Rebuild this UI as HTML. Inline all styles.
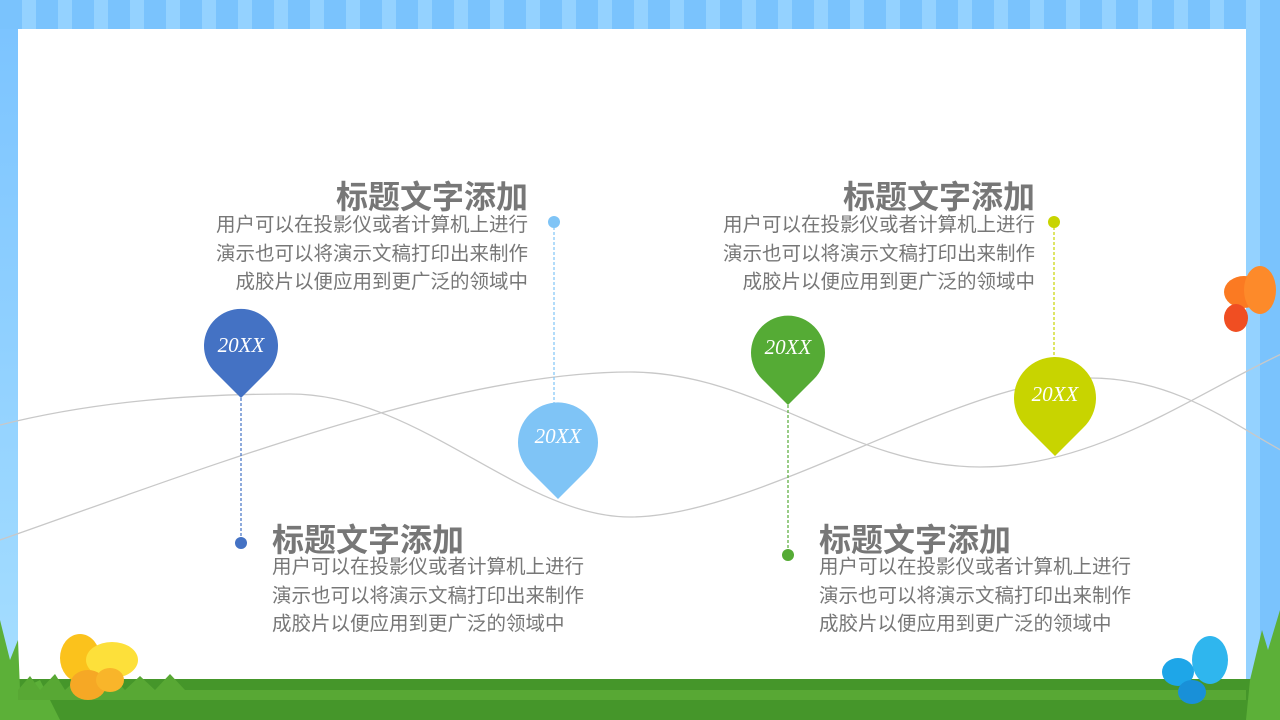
<!DOCTYPE html>
<html><head><meta charset="utf-8"><style>
body{margin:0;width:1280px;height:720px;overflow:hidden;position:relative;font-family:"Liberation Sans","Noto Sans CJK SC",sans-serif;background:linear-gradient(#7cc4ff,#8fd0ff 60%,#b8e8ff);}
.stripes{position:absolute;left:0;top:0;width:1280px;height:720px;background:repeating-linear-gradient(90deg,#7ac3fd 0 22px,#94d2ff 22px 36px);}
.panel{position:absolute;left:18px;top:29px;width:1228px;height:660px;background:#fff;}
.t{position:absolute;color:#777;white-space:nowrap;}
.h{font-size:32px;font-weight:bold;line-height:34px;}
.b{font-size:19.5px;line-height:28.5px;}
.r{text-align:right}
</style></head><body>
<div class="stripes"></div>
<div style="position:absolute;left:0;top:29px;width:18px;height:660px;background:linear-gradient(#7cc4ff,#a6deff);"></div>
<div class="panel"></div>
<svg width="1280" height="720" style="position:absolute;left:0;top:0">
<g fill="none" stroke="#c8c8c8" stroke-width="1.3">
<path d="M0 425 C100 400 200 394 290 394 C420 394 520 517 630 517 C760 517 960 378 1090 378 C1180 378 1240 430 1290 455"/>
<path d="M0 540 C200 470 450 372 630 372 C760 372 850 467 980 467 C1100 467 1200 390 1290 350"/>
</g>
<g stroke-width="1.2" stroke-dasharray="3,2">
<line x1="241" y1="398" x2="241" y2="543" stroke="#4472c4"/>
<line x1="554" y1="222" x2="554" y2="405" stroke="#7fc4f6"/>
<line x1="788" y1="405" x2="788" y2="555" stroke="#55ab35"/>
<line x1="1054" y1="222" x2="1054" y2="360" stroke="#c8d400"/>
</g>
<circle cx="241" cy="543" r="6" fill="#4472c4"/>
<circle cx="554" cy="222" r="6" fill="#7fc4f6"/>
<circle cx="788" cy="555" r="6" fill="#55ab35"/>
<circle cx="1054" cy="222" r="6" fill="#c8d400"/>
<g font-family="'Liberation Serif',serif" font-style="italic" font-size="21" fill="#fff" text-anchor="middle">
<path d="M241 398 L213 370 A37 37 0 1 1 269 370 Z" fill="#4472c4"/><text x="241" y="352">20XX</text>
<path d="M558 499 L530 471 A40 40 0 1 1 586 471 Z" fill="#7fc4f6"/><text x="558" y="443">20XX</text>
<path d="M788 405 L762 379 A37 37 0 1 1 814 379 Z" fill="#55ab35"/><text x="788" y="354">20XX</text>
<path d="M1055 456 L1027 428 A41 41 0 1 1 1083 428 Z" fill="#c8d400"/><text x="1055" y="401">20XX</text>
</g>
<rect x="0" y="679" width="1280" height="41" fill="#45962a"/>
<g fill="#5cb038">
<path d="M0 720 L0 620 L10 660 L18 640 L20 690 L40 680 L60 720Z"/>
<path d="M1280 720 L1280 610 L1268 650 L1262 630 L1250 680 L1246 720Z"/>
<path d="M18 690 L30 676 L40 690 L55 674 L65 690 L80 676 L95 690 L110 674 L125 690 L140 676 L155 690 L170 674 L185 690 L1246 690 L1246 700 L18 700Z" fill="#58a834"/>
</g>
<g>
<ellipse cx="80" cy="658" rx="20" ry="24" fill="#fbc21c"/><ellipse cx="112" cy="660" rx="26" ry="18" fill="#fde03a"/>
<ellipse cx="88" cy="685" rx="18" ry="15" fill="#f6a825"/><ellipse cx="110" cy="680" rx="14" ry="12" fill="#f9b52a"/>
<ellipse cx="1244" cy="292" rx="20" ry="16" fill="#fb7a22"/><ellipse cx="1260" cy="290" rx="16" ry="24" fill="#fd8a2a"/>
<ellipse cx="1236" cy="318" rx="12" ry="14" fill="#f04e22"/>
<ellipse cx="1210" cy="660" rx="18" ry="24" fill="#2fb6ee"/><ellipse cx="1178" cy="672" rx="16" ry="14" fill="#1ea6e8"/>
<ellipse cx="1192" cy="692" rx="14" ry="12" fill="#1990d8"/>
</g>
</svg>
<div class="t h r" style="left:128px;top:180px;width:400px;">标题文字添加</div>
<div class="t b r" style="left:128px;top:211px;width:400px;">用户可以在投影仪或者计算机上进行<br>演示也可以将演示文稿打印出来制作<br>成胶片以便应用到更广泛的领域中</div>
<div class="t h r" style="left:635px;top:180px;width:400px;">标题文字添加</div>
<div class="t b r" style="left:635px;top:211px;width:400px;">用户可以在投影仪或者计算机上进行<br>演示也可以将演示文稿打印出来制作<br>成胶片以便应用到更广泛的领域中</div>
<div class="t h" style="left:272px;top:523px;">标题文字添加</div>
<div class="t b" style="left:272px;top:553px;">用户可以在投影仪或者计算机上进行<br>演示也可以将演示文稿打印出来制作<br>成胶片以便应用到更广泛的领域中</div>
<div class="t h" style="left:819px;top:523px;">标题文字添加</div>
<div class="t b" style="left:819px;top:553px;">用户可以在投影仪或者计算机上进行<br>演示也可以将演示文稿打印出来制作<br>成胶片以便应用到更广泛的领域中</div>
</body></html>
